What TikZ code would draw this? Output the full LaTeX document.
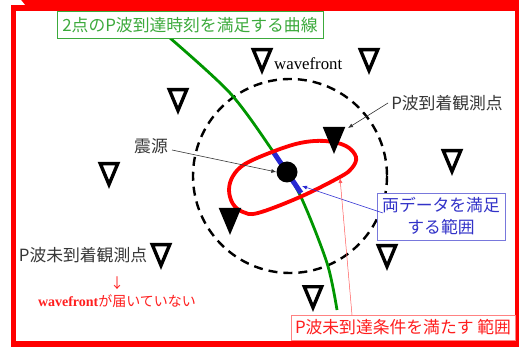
\documentclass[tikz,border=0pt]{standalone}
\usepackage{fontspec}
\setmainfont{Noto Sans CJK JP}
\newfontfamily\wfserif{Liberation Serif}
\usetikzlibrary{arrows.meta}
\definecolor{frred}{RGB}{255,0,0}
\definecolor{gline}{RGB}{0,150,0}
\definecolor{gtext}{RGB}{60,170,60}
\definecolor{bline}{RGB}{40,40,210}
\definecolor{btext}{RGB}{50,50,200}
\definecolor{bbox}{RGB}{120,120,220}
\definecolor{rtext}{RGB}{255,30,30}
\definecolor{rbox}{RGB}{255,130,130}
\definecolor{rlead}{RGB}{255,90,90}
\definecolor{dgray}{RGB}{55,55,55}
\newcommand\obsst[4]{%
  \coordinate (#1) at (#2,#3);
  \draw[#4,shift={(#1)}] (-8.7,1.7) -- (8.7,1.7) -- (0,22.5) -- cycle;}
\begin{document}
\begin{tikzpicture}[x=1pt,y=-1pt,
  jp/.style={font=\fontsize{16.8}{22}\selectfont, inner sep=0pt},
  opentri/.style={draw=black, fill=white, line width=3.4pt, line join=miter},
  filltri/.style={draw=black, fill=black, line width=3.4pt, line join=miter},
  lead/.style={line width=0.6pt, -{Latex[length=5pt,width=4pt]}},
]
\useasboundingbox (0,0) rectangle (519,347);
% frame
\fill[white] (0,0) rectangle (519,347);
\fill[frred] (11,0) rectangle (519,347);
\fill[white] (16,11) rectangle (515,341);
\fill[white] (11,0) -- (21,0) -- (25,5) -- (11,5) -- cycle;

% dashed wavefront circle
\coordinate (hc) at (290,176);
\draw[black, line width=2.4pt, dash pattern=on 9pt off 6pt] (hc) circle[radius=97];

% green curve
\coordinate (g0) at (170,38);
\coordinate (g5) at (337,310);
\draw[gline, line width=2.8pt] plot[smooth] coordinates {(g0) (230,93) (272,150) (300,195) (327,263) (g5)};
% blue segment
\coordinate (b0) at (274,153);
\coordinate (b1) at (301,193);
\draw[bline, line width=5pt] (b0) -- (b1);

% red region
\draw[frred, line width=3.8pt] plot[smooth cycle, tension=0.6] coordinates {(356,157) (346,146) (325,141) (300,143) (272,152) (245,164) (233,176) (229,190) (233,204) (243,212) (258,213) (300,197) (340,177) (352,168)};

% hypocenter
\node[circle, fill=black, minimum size=21pt, inner sep=0pt] (hypo) at (287,172) {};

% stations
\obsst{s1}{178}{88}{opentri}
\obsst{s2}{262}{48}{opentri}
\obsst{s3}{369}{48}{opentri}
\obsst{s4}{334}{127}{filltri}
\obsst{s5}{452}{149}{opentri}
\obsst{s6}{109}{162}{opentri}
\obsst{s7}{230}{208}{filltri}
\obsst{s8}{161}{243}{opentri}
\obsst{s9}{387}{244}{opentri}
\obsst{s10}{313}{285}{opentri}

% labels
\draw[gtext, line width=0.8pt, fill=white] (57,11) rectangle (323,38);
\node[jp, text=gtext] (gl) at (190,25) {2点のP波到達時刻を満足する曲線};

\node[font=\wfserif\fontsize{16.8}{20}\selectfont, inner sep=0pt, anchor=base west] (wf) at (274,70) {wavefront};

\node[jp, text=dgray] (arr) at (447,103) {P波到着観測点};
\coordinate (arrend) at (348,128);
\draw[lead, dgray] (388,103) -- (arrend);

\node[jp, text=dgray] (src) at (151,146) {震源};
\draw[lead, dgray] (172,150) -- (hypo.west);

\node[jp, text=dgray] (nar) at (83,255) {P波未到着観測点};
\node[font=\fontsize{14}{16}\selectfont, text=rtext, inner sep=0pt] (down) at (117,283) {↓};
\node[font=\fontsize{14}{16}\selectfont, text=rtext, inner sep=0pt] (nwf) at (117,301) {{\wfserif\bfseries wavefront}が届いていない};

\node[jp, draw=bbox, line width=0.8pt, fill=white, text=btext, align=center, minimum width=128pt, minimum height=47pt] (both) at (441,216.5) {両データを満足\\する範囲};
\coordinate (bend) at (302,186);
\draw[lead, bline, line width=0.5pt] (383,213) -- (bend);

\node[jp, draw=rbox, line width=0.8pt, fill=white, text=rtext, minimum width=224pt, minimum height=25pt] (notarr) at (403,327.5) {P波未到達条件を満たす 範囲};
\coordinate (rend) at (340,178);
\draw[lead, rlead, line width=0.5pt] (352,315) -- (rend);
\end{tikzpicture}
\end{document}
